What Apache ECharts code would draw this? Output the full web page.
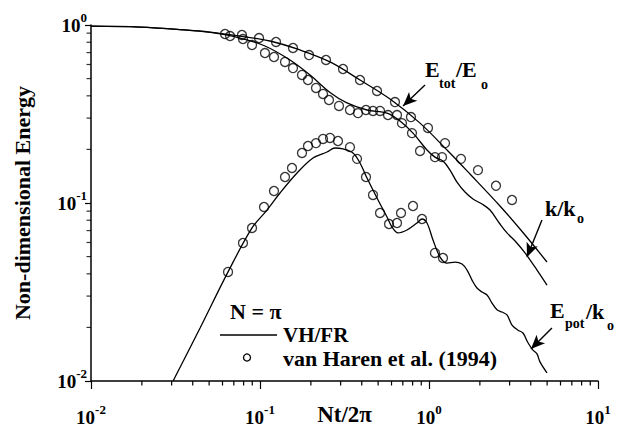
<!DOCTYPE html>
<html>
<head>
<meta charset="utf-8">
<script src="https://cdn.jsdelivr.net/npm/echarts@6/dist/echarts.min.js"></script>
<style>
  html, body { margin: 0; padding: 0; background: #fff; }
  #chart { width: 619px; height: 431px; }
</style>
</head>
<body>
<div id="chart"></div>
<script>
// Non-dimensional time Nt/2π and energies, N = π

// VH/FR model curves
const totLineT = [0.01, 0.0195, 0.0336, 0.0506, 0.0762, 0.1146, 0.1725, 0.2596, 0.3906, 0.588, 0.885, 1.278, 1.748, 2.63, 3.70, 4.99];
const totLineE = [0.985, 0.974, 0.943, 0.913, 0.867, 0.813, 0.724, 0.620, 0.491, 0.384, 0.281, 0.1985, 0.1455, 0.0962, 0.0661, 0.0466];

const kLineT = [0.01, 0.0195, 0.0336, 0.0510, 0.0762, 0.107, 0.1505, 0.1977, 0.2596, 0.327, 0.4297, 0.5643, 0.6735, 0.804, 0.973, 1.085, 1.210, 1.331, 1.464, 1.633, 1.821, 2.059, 2.296, 2.631, 2.894, 3.271, 3.70, 4.356, 4.99];
const kLineE = [0.985, 0.974, 0.943, 0.908, 0.845, 0.762, 0.636, 0.524, 0.418, 0.365, 0.333, 0.320, 0.289, 0.247, 0.1985, 0.181, 0.172, 0.153, 0.131, 0.1153, 0.1053, 0.0987, 0.0913, 0.0762, 0.0679, 0.0604, 0.0524, 0.042, 0.0346];

const epotLineT = [0.0306, 0.0442, 0.0647, 0.0897, 0.110, 0.1313, 0.1656, 0.2059, 0.2491, 0.2778, 0.3099, 0.3551, 0.3906, 0.4297, 0.4993, 0.5643, 0.6042, 0.6557, 0.741, 0.8492, 0.909, 0.973, 1.056, 1.162, 1.278, 1.425, 1.568, 1.679, 1.797, 1.923, 2.059, 2.204, 2.36, 2.526, 2.704, 2.894, 3.098, 3.361, 3.598, 3.852, 4.124, 4.356, 4.537, 4.99];
const epotLineE = [0.0100, 0.01985, 0.0410, 0.0724, 0.0913, 0.1138, 0.1474, 0.179, 0.1934, 0.2037, 0.2011, 0.191, 0.1678, 0.1381, 0.104, 0.0834, 0.0733, 0.0679, 0.0705, 0.0772, 0.0813, 0.0772, 0.0620, 0.0497, 0.0460, 0.0466, 0.0454, 0.0420, 0.0369, 0.0333, 0.0316, 0.0304, 0.0274, 0.0251, 0.0244, 0.0235, 0.0206, 0.0193, 0.0186, 0.0164, 0.0149, 0.0142, 0.0128, 0.0111];

// van Haren et al. (1994) measurements
const totObsT = [0.0621, 0.0782, 0.0987, 0.1244, 0.1568, 0.195, 0.2458, 0.3099, 0.3906, 0.4925, 0.629, 0.782, 0.986, 1.244, 1.546, 1.949, 2.491, 3.098];
const totObsE = [0.890, 0.879, 0.845, 0.803, 0.743, 0.678, 0.636, 0.566, 0.491, 0.426, 0.369, 0.304, 0.264, 0.217, 0.177, 0.153, 0.125, 0.104];

const kObsT = [0.0665, 0.0793, 0.0897, 0.107, 0.121, 0.1406, 0.1568, 0.1772, 0.1923, 0.2145, 0.236, 0.256, 0.2934, 0.3407, 0.380, 0.4238, 0.4663, 0.5131, 0.572, 0.6467, 0.692, 0.793, 0.885, 1.085, 1.194];
const kObsE = [0.867, 0.834, 0.772, 0.696, 0.661, 0.620, 0.573, 0.524, 0.491, 0.443, 0.410, 0.379, 0.351, 0.333, 0.320, 0.333, 0.329, 0.329, 0.312, 0.312, 0.281, 0.247, 0.196, 0.181, 0.181];

const epotObsT = [0.0647, 0.0793, 0.0897, 0.1056, 0.121, 0.1406, 0.1546, 0.1772, 0.1923, 0.2145, 0.236, 0.2596, 0.2894, 0.3407, 0.375, 0.4238, 0.4663, 0.5131, 0.580, 0.6467, 0.683, 0.804, 0.909, 1.085, 1.210];
const epotObsE = [0.0410, 0.0596, 0.0724, 0.0950, 0.1168, 0.140, 0.1573, 0.191, 0.209, 0.217, 0.229, 0.232, 0.223, 0.206, 0.177, 0.140, 0.111, 0.0879, 0.0762, 0.0772, 0.0879, 0.0962, 0.0813, 0.0524, 0.0491];

// Curve label arrows (tail -> tip), in data units
const arrowTailT = [0.947, 4.66, 5.34];
const arrowTailE = [0.460, 0.0803, 0.01985];
const arrowTipT = [0.702, 3.80, 4.01];
const arrowTipE = [0.351, 0.0497, 0.01513];

// Axis ranges (decades)
const xRange = [0.01, 10];
const yRange = [0.01, 1];

const zip = (a, b) => a.map((v, i) => [v, b[i]]);

// 2..9 × 10^d positions inside each decade
function minorValues(lo, hi) {
  const out = [];
  for (let d = Math.round(Math.log10(lo)); d < Math.round(Math.log10(hi)); d++) {
    for (let m = 2; m <= 9; m++) out.push(m * Math.pow(10, d));
  }
  return out;
}

const SERIF = "'Liberation Serif', 'Times New Roman', serif";
const INK = '#000';

const powLabel = v => '{b|10}{e|' + Math.round(Math.log10(v)) + '}';
const powRich = {
  b: { fontFamily: SERIF, fontSize: 19, fontWeight: 'bold', lineHeight: 28, color: INK },
  e: { fontFamily: SERIF, fontSize: 13, fontWeight: 'bold', lineHeight: 13, verticalAlign: 'top', color: INK }
};

const lineSeries = (name, t, e) => ({
  name, type: 'line', data: zip(t, e), showSymbol: false, smooth: 0.35,
  lineStyle: { color: INK, width: 1.3 }, clip: true, z: 2
});
const obsSeries = (name, t, e) => ({
  name, type: 'scatter', data: zip(t, e), symbol: 'circle', symbolSize: 9,
  itemStyle: { color: 'rgba(0,0,0,0)', borderColor: INK, borderWidth: 1.3 }, z: 3
});

// Short outward minor ticks on the log axes, positioned through the axis scales
const MINOR_LEN = 4.5;
const xMinorTicks = {
  type: 'custom', silent: true, clip: false, z: 5,
  data: minorValues(xRange[0], xRange[1]).map(v => [v, 0.1]),
  encode: { x: 0, y: 1 },
  renderItem: (params, api) => {
    const cs = params.coordSys;
    const p = api.coord([api.value(0), api.value(1)]);
    const y0 = cs.y + cs.height;
    return {
      type: 'line',
      shape: { x1: p[0], y1: y0, x2: p[0], y2: y0 + MINOR_LEN },
      style: { stroke: INK, lineWidth: 1.2 }
    };
  }
};
const yMinorTicks = {
  type: 'scatter', silent: true, clip: false, z: 5,
  data: minorValues(yRange[0], yRange[1]).map(v => [xRange[0], v]),
  symbol: 'rect', symbolSize: [MINOR_LEN, 1.2], symbolOffset: [-MINOR_LEN / 2, 0],
  itemStyle: { color: INK, borderWidth: 0 }
};

const chart = echarts.init(document.getElementById('chart'), null, { renderer: 'svg' });

const totLine = lineSeries('E_tot/E_o', totLineT, totLineE);
totLine.markLine = {
  silent: true,
  symbol: ['none', 'arrow'],
  symbolSize: [9, 14],
  label: { show: false },
  lineStyle: { color: INK, width: 1.4, type: 'solid' },
  data: arrowTailT.map((t, i) => [
    { coord: [t, arrowTailE[i]] },
    { coord: [arrowTipT[i], arrowTipE[i]] }
  ])
};

const textEl = (text, x, y, size) => ({
  type: 'text', x, y, silent: true,
  style: { text, fill: INK, font: 'bold ' + size + 'px ' + SERIF, align: 'left', verticalAlign: 'middle' }
});

chart.setOption({
  animation: false,
  backgroundColor: '#fff',
  grid: { left: 91, right: 21, top: 25, bottom: 50, containLabel: false, outerBoundsMode: 'none' },
  xAxis: {
    type: 'log', logBase: 10, min: xRange[0], max: xRange[1], position: 'bottom',
    name: 'Nt/2π', nameLocation: 'middle', nameGap: 22, nameMoveOverlap: false,
    nameTextStyle: { fontFamily: SERIF, fontSize: 23, fontWeight: 'bold', color: INK },
    axisLine: { show: true, lineStyle: { color: INK, width: 1.5 } },
    axisTick: { show: true, length: 8, lineStyle: { color: INK, width: 1.2 } },
    axisLabel: { formatter: powLabel, rich: powRich, margin: 22 },
    splitLine: { show: false }
  },
  yAxis: {
    type: 'log', logBase: 10, min: yRange[0], max: yRange[1], position: 'left',
    name: 'Non-dimensional Energy', nameLocation: 'middle', nameGap: 58, nameMoveOverlap: false,
    nameTextStyle: { fontFamily: SERIF, fontSize: 22, fontWeight: 'bold', color: INK },
    axisLine: { show: true, lineStyle: { color: INK, width: 1.5 } },
    axisTick: { show: true, length: 6, lineStyle: { color: INK, width: 1.2 } },
    axisLabel: { formatter: powLabel, rich: powRich, margin: 4 },
    splitLine: { show: false }
  },
  series: [
    totLine,
    lineSeries('k/k_o', kLineT, kLineE),
    lineSeries('E_pot/k_o', epotLineT, epotLineE),
    obsSeries('E_tot/E_o obs', totObsT, totObsE),
    obsSeries('k/k_o obs', kObsT, kObsE),
    obsSeries('E_pot/k_o obs', epotObsT, epotObsE),
    xMinorTicks,
    yMinorTicks
  ],
  graphic: [
    // curve labels
    textEl('E', 425, 69, 22), textEl('tot', 439, 83, 14),
    textEl('/E', 456, 69, 22), textEl('o', 481, 84, 14),
    textEl('k/k', 545, 208, 22), textEl('o', 577, 218, 14),
    textEl('E', 550, 310, 22), textEl('pot', 565, 323, 14),
    textEl('/k', 586, 311, 22), textEl('o', 607, 325, 14),
    // key
    textEl('N = π', 230, 311, 22),
    { type: 'line', silent: true, shape: { x1: 220, y1: 335, x2: 277, y2: 335 }, style: { stroke: INK, lineWidth: 1.3 } },
    textEl('VH/FR', 283, 335, 21),
    { type: 'circle', silent: true, shape: { cx: 247, cy: 357.5, r: 3.5 }, style: { fill: 'none', stroke: INK, lineWidth: 1.3 } },
    textEl('van Haren et al. (1994)', 283, 358.5, 22)
  ]
});
</script>
</body>
</html>
